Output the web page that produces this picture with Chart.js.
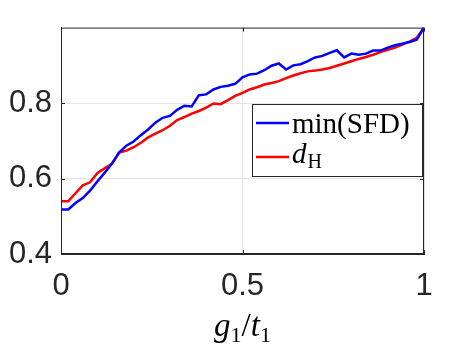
<!DOCTYPE html>
<html>
<head>
<meta charset="utf-8">
<script src="https://cdn.jsdelivr.net/npm/chart.js@4.4.1/dist/chart.umd.min.js"></script>
<style>
  html, body { margin: 0; padding: 0; background: #fff; }
  canvas { display: block; }
</style>
</head>
<body>
<canvas id="chart" width="468" height="351"></canvas>
<script>
// g1/t1 values along the x axis
const ratio = [0, 0.02, 0.04, 0.06, 0.08, 0.1, 0.12, 0.14, 0.16, 0.18,
  0.2, 0.22, 0.24, 0.26, 0.28, 0.3, 0.32, 0.34, 0.36, 0.38,
  0.4, 0.42, 0.44, 0.46, 0.48, 0.5, 0.52, 0.54, 0.56, 0.58,
  0.6, 0.62, 0.64, 0.66, 0.68, 0.7, 0.72, 0.74, 0.76, 0.78,
  0.8, 0.82, 0.84, 0.86, 0.88, 0.9, 0.92, 0.94, 0.96, 0.98, 1];

// min(SFD), blue
const minSFD = [0.518, 0.518, 0.535, 0.548, 0.568, 0.592, 0.615, 0.639, 0.669, 0.687,
  0.698, 0.715, 0.730, 0.748, 0.761, 0.766, 0.782, 0.793, 0.791, 0.821,
  0.823, 0.836, 0.843, 0.846, 0.851, 0.868, 0.876, 0.878, 0.887, 0.899,
  0.905, 0.889, 0.900, 0.903, 0.911, 0.921, 0.925, 0.933, 0.940, 0.921,
  0.931, 0.928, 0.931, 0.939, 0.939, 0.947, 0.953, 0.957, 0.962, 0.968, 1.0];

// d_H, red
const dH = [0.540, 0.540, 0.561, 0.582, 0.590, 0.614, 0.627, 0.639, 0.669, 0.674,
  0.683, 0.695, 0.709, 0.719, 0.728, 0.740, 0.755, 0.763, 0.772, 0.779,
  0.788, 0.799, 0.797, 0.808, 0.819, 0.827, 0.836, 0.842, 0.849, 0.853,
  0.858, 0.866, 0.873, 0.879, 0.884, 0.886, 0.889, 0.893, 0.899, 0.905,
  0.911, 0.917, 0.922, 0.928, 0.935, 0.941, 0.947, 0.955, 0.963, 0.973, 1.0];

const xTicks = [0, 0.5, 1];
const yTicks = [0.4, 0.6, 0.8];

const axisColor = '#262626';
const gridColor = '#e2e2e2';
const tickFont = { family: 'Liberation Sans', size: 31 };

// box round the axes + inward ticks, matlab style
const boxPlugin = {
  id: 'box',
  afterDraw(chart) {
    const { ctx, chartArea: a, scales } = chart;
    ctx.save();
    ctx.strokeStyle = axisColor;
    ctx.lineWidth = 1;
    ctx.strokeRect(a.left + 0.5, a.top + 0.5, a.right - a.left - 1, a.bottom - a.top - 1);
    ctx.beginPath();
    xTicks.forEach(v => {
      const x = Math.round(scales.x.getPixelForValue(v)) + 0.5;
      ctx.moveTo(x, a.bottom); ctx.lineTo(x, a.bottom - 4);
      ctx.moveTo(x, a.top); ctx.lineTo(x, a.top + 4);
    });
    yTicks.forEach(v => {
      const y = Math.round(scales.y.getPixelForValue(v)) + 0.5;
      ctx.moveTo(a.left, y); ctx.lineTo(a.left + 4, y);
      ctx.moveTo(a.right, y); ctx.lineTo(a.right - 4, y);
    });
    ctx.stroke();
    ctx.restore();
  }
};

// legend with math-ish labels
const legendPlugin = {
  id: 'mathLegend',
  afterDraw(chart) {
    const { ctx } = chart;
    const bx = 252, by = 104, bw = 170, bh = 72;
    ctx.save();
    ctx.fillStyle = '#fff';
    ctx.fillRect(bx, by, bw, bh);
    ctx.strokeStyle = axisColor;
    ctx.lineWidth = 1;
    ctx.strokeRect(bx + 0.5, by + 0.5, bw, bh);

    const items = chart.data.datasets;
    const rows = [123, 157];
    items.forEach((ds, i) => {
      ctx.strokeStyle = ds.borderColor;
      ctx.lineWidth = 2.5;
      ctx.beginPath();
      ctx.moveTo(256, rows[i]);
      ctx.lineTo(289, rows[i]);
      ctx.stroke();
    });

    ctx.fillStyle = '#000';
    ctx.textBaseline = 'alphabetic';
    ctx.textAlign = 'left';
    ctx.font = '29px "Liberation Serif"';
    ctx.fillText('min(SFD)', 292, 133);

    ctx.font = 'italic 29px "Liberation Serif"';
    ctx.fillText('d', 292, 163);
    const dw = ctx.measureText('d').width;
    ctx.font = '20px "Liberation Serif"';
    ctx.fillText('H', 292 + dw + 1, 168);
    ctx.restore();
  }
};

// x axis title g1/t1
const xTitlePlugin = {
  id: 'xTitle',
  afterDraw(chart) {
    const { ctx, scales } = chart;
    const parts = [
      { t: 'g', f: 'italic 33px "Liberation Serif"', dy: 0 },
      { t: '1', f: '22px "Liberation Serif"', dy: 6 },
      { t: '/', f: '33px "Liberation Serif"', dy: 0 },
      { t: 't', f: 'italic 33px "Liberation Serif"', dy: 0 },
      { t: '1', f: '22px "Liberation Serif"', dy: 6 }
    ];
    ctx.save();
    ctx.fillStyle = '#000';
    ctx.textBaseline = 'alphabetic';
    let total = 0;
    parts.forEach(p => { ctx.font = p.f; p.w = ctx.measureText(p.t).width; total += p.w; });
    let x = scales.x.getPixelForValue(0.5) - total / 2;
    const base = 336;
    parts.forEach(p => {
      ctx.font = p.f;
      ctx.fillText(p.t, x, base + p.dy);
      x += p.w;
    });
    ctx.restore();
  }
};

const ctx = document.getElementById('chart').getContext('2d');
new Chart(ctx, {
  type: 'line',
  data: {
    datasets: [
      {
        label: 'min(SFD)',
        data: ratio.map((x, i) => ({ x: x, y: minSFD[i] })),
        borderColor: '#0000ff',
        borderWidth: 2.5,
        pointRadius: 0,
        tension: 0,
        fill: false
      },
      {
        label: 'd_H',
        data: ratio.map((x, i) => ({ x: x, y: dH[i] })),
        borderColor: '#ff0000',
        borderWidth: 2.5,
        pointRadius: 0,
        tension: 0,
        fill: false
      }
    ]
  },
  options: {
    responsive: false,
    animation: false,
    layout: { padding: { top: 26, right: 44, left: 0, bottom: 0 } },
    plugins: {
      legend: { display: false },
      tooltip: { enabled: false }
    },
    scales: {
      x: {
        type: 'linear',
        min: 0,
        max: 1,
        afterBuildTicks: (scale) => { scale.ticks = xTicks.map(v => ({ value: v })); },
        afterFit: (scale) => { scale.height = 97; },
        ticks: {
          font: tickFont,
          color: axisColor,
          padding: 14,
          maxRotation: 0,
          callback: (v) => String(v)
        },
        grid: { color: gridColor, drawTicks: false },
        border: { color: axisColor }
      },
      y: {
        min: 0.4,
        max: 1,
        afterBuildTicks: (scale) => { scale.ticks = yTicks.map(v => ({ value: v })); },
        afterFit: (scale) => { scale.width = 61; },
        ticks: {
          font: tickFont,
          color: axisColor,
          padding: 9,
          callback: (v) => v.toFixed(1)
        },
        grid: { color: gridColor, drawTicks: false },
        border: { color: axisColor }
      }
    }
  },
  plugins: [boxPlugin, legendPlugin, xTitlePlugin]
});
</script>
</body>
</html>
